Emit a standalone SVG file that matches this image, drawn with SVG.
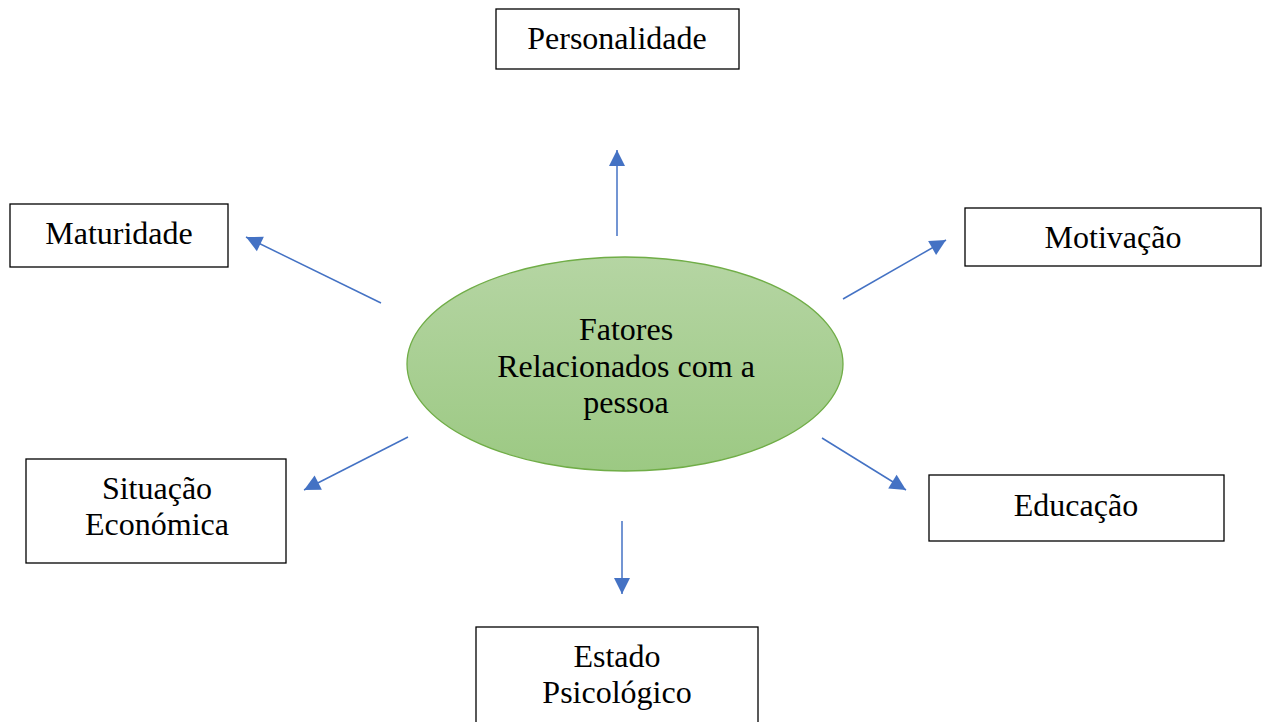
<svg xmlns="http://www.w3.org/2000/svg" width="1264" height="722" viewBox="0 0 1264 722">
<style>
.box{fill:#fff;stroke:#000;stroke-width:1.3}
.t{font-family:"Liberation Serif","Times New Roman",serif;font-size:32px;fill:#000;text-anchor:middle}
.c{stroke:#4472c4;stroke-width:1.5;fill:none;marker-end:url(#ah)}
</style>
<defs>
<linearGradient id="g" x1="0" y1="0" x2="0" y2="1">
<stop offset="0" stop-color="#b5d5a3"/>
<stop offset="1" stop-color="#9cc983"/>
</linearGradient>
<marker id="ah" viewBox="0 0 16 16" refX="16" refY="5" markerWidth="16" markerHeight="16" markerUnits="userSpaceOnUse" orient="auto" overflow="visible">
<path d="M0,-3 L16,5 L0,13 Z" fill="#4472c4"/>
</marker>
</defs>
<rect width="1264" height="722" fill="#fff"/>
<g id="connectors">
<line class="c" x1="617" y1="236" x2="617" y2="150"/>
<line class="c" x1="381" y1="303" x2="246" y2="237"/>
<line class="c" x1="843" y1="299" x2="946" y2="240"/>
<line class="c" x1="408" y1="437" x2="304" y2="490"/>
<line class="c" x1="822" y1="438" x2="906" y2="490"/>
<line class="c" x1="622" y1="521" x2="622" y2="594"/>
</g>
<g id="center">
<ellipse cx="625" cy="364" rx="218" ry="107" fill="url(#g)" stroke="#70ad47" stroke-width="1.3"/>
<text class="t" x="626" y="340">Fatores</text>
<text class="t" x="626" y="377">Relacionados com a</text>
<text class="t" x="626" y="413">pessoa</text>
</g>
<g id="personalidade">
<rect class="box" x="496" y="9" width="243" height="60"/>
<text class="t" x="617" y="49">Personalidade</text>
</g>
<g id="maturidade">
<rect class="box" x="10" y="204" width="218" height="63"/>
<text class="t" x="119" y="244">Maturidade</text>
</g>
<g id="motivacao">
<rect class="box" x="965" y="208" width="296" height="58"/>
<text class="t" x="1113" y="248">Motivação</text>
</g>
<g id="situacao">
<rect class="box" x="26" y="459" width="260" height="104"/>
<text class="t" x="157" y="499">Situação</text>
<text class="t" x="157" y="535">Económica</text>
</g>
<g id="educacao">
<rect class="box" x="929" y="475" width="295" height="66"/>
<text class="t" x="1076" y="516">Educação</text>
</g>
<g id="estado">
<rect class="box" x="476" y="627" width="282" height="110"/>
<text class="t" x="617" y="667">Estado</text>
<text class="t" x="617" y="703">Psicológico</text>
</g>
</svg>
